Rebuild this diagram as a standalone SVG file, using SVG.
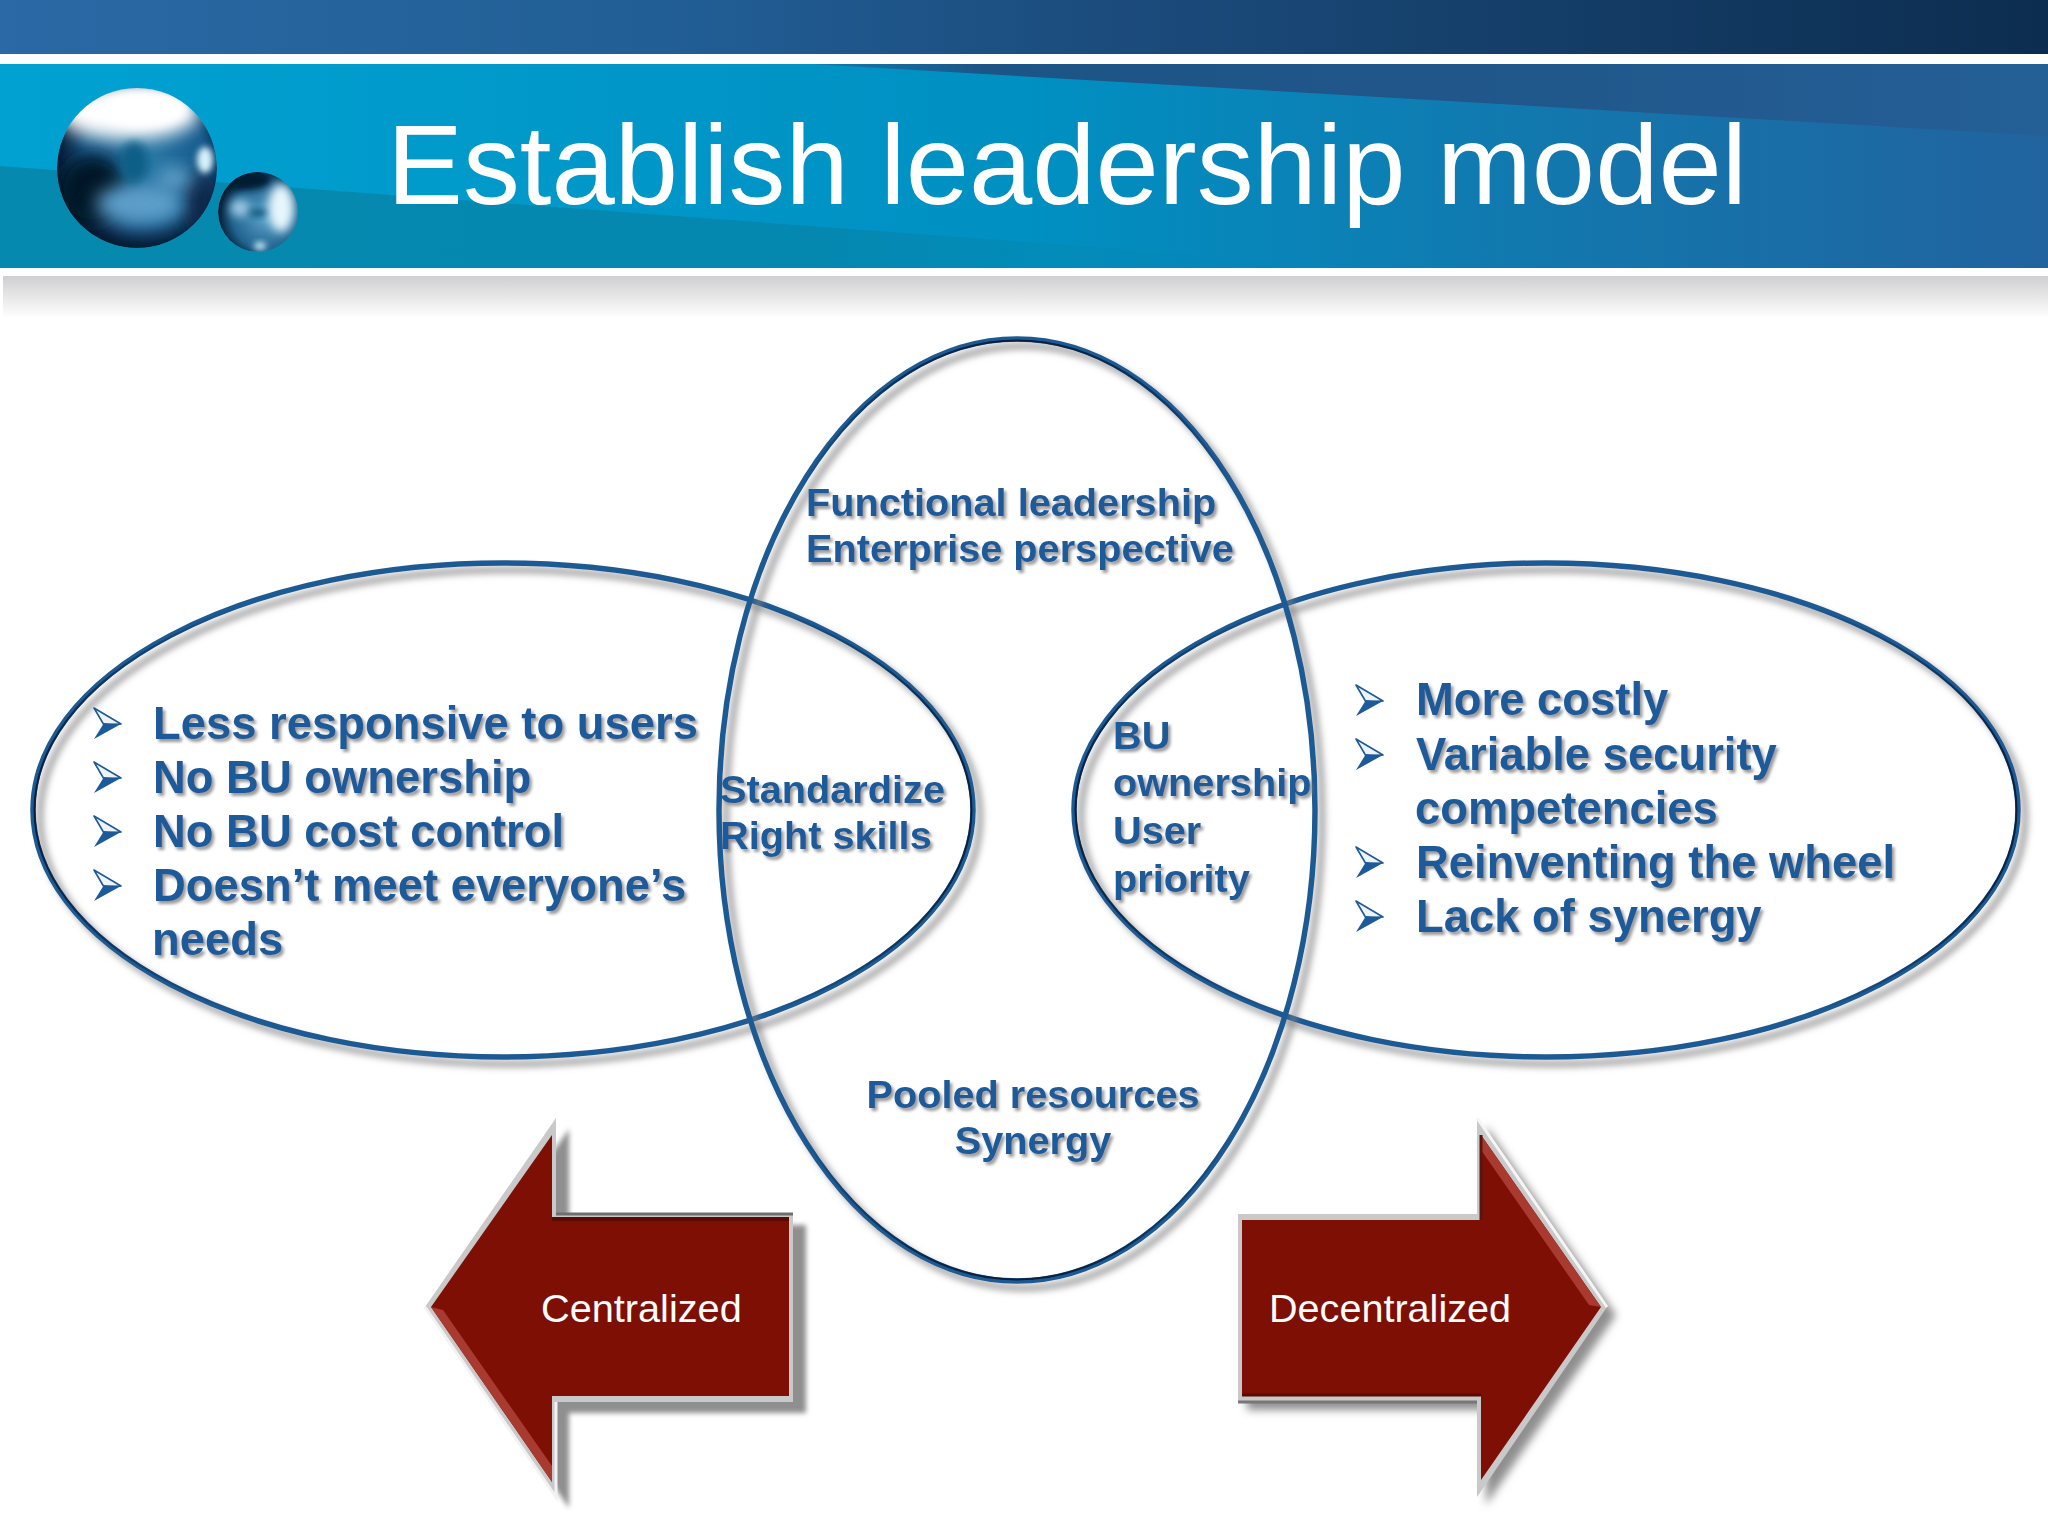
<svg xmlns="http://www.w3.org/2000/svg" width="2048" height="1536" viewBox="0 0 2048 1536">
<defs>
<linearGradient id="gTop" x1="0" x2="1" y1="0" y2="0"><stop offset="0" stop-color="#2a69a5"/><stop offset="0.33" stop-color="#215e95"/><stop offset="0.55" stop-color="#1b4b7c"/><stop offset="1" stop-color="#0c2d4f"/></linearGradient>
<linearGradient id="gBand" x1="0" x2="1" y1="0" y2="0"><stop offset="0" stop-color="#00a2d2"/><stop offset="0.5" stop-color="#0090c2"/><stop offset="0.75" stop-color="#1278ae"/><stop offset="1" stop-color="#21639f"/></linearGradient>
<linearGradient id="gTeal" x1="0" x2="1" y1="0" y2="0"><stop offset="0" stop-color="#0589ae"/><stop offset="0.6" stop-color="#0488b0"/><stop offset="1" stop-color="#0488b8" stop-opacity="0"/></linearGradient>
<linearGradient id="gWedge" x1="0" x2="1" y1="0" y2="0"><stop offset="0" stop-color="#0f7cb0"/><stop offset="0.14" stop-color="#1d5486"/><stop offset="0.5" stop-color="#205689"/><stop offset="1" stop-color="#245f96"/></linearGradient>
<linearGradient id="gFade" x1="0" x2="0" y1="0" y2="1"><stop offset="0" stop-color="#cfcfd1"/><stop offset="1" stop-color="#ffffff"/></linearGradient>
<linearGradient id="gRimH" x1="0" x2="1" y1="0" y2="0"><stop offset="0" stop-color="#08203c"/><stop offset="0.22" stop-color="#08203c" stop-opacity="0"/><stop offset="0.78" stop-color="#08203c" stop-opacity="0"/><stop offset="1" stop-color="#08203c"/></linearGradient>
<linearGradient id="gRimV" x1="0" x2="0" y1="0" y2="1"><stop offset="0" stop-color="#08203c"/><stop offset="0.16" stop-color="#08203c" stop-opacity="0"/><stop offset="0.84" stop-color="#08203c" stop-opacity="0"/><stop offset="1" stop-color="#08203c"/></linearGradient>
<radialGradient id="gBig" cx="0.55" cy="0.45" r="0.58"><stop offset="0" stop-color="#2a7aa8"/><stop offset="0.65" stop-color="#145a8c"/><stop offset="0.9" stop-color="#07233f"/><stop offset="1" stop-color="#04182c"/></radialGradient>
<radialGradient id="gSmall" cx="0.6" cy="0.55" r="0.6"><stop offset="0" stop-color="#5ea6cf"/><stop offset="0.7" stop-color="#20648f"/><stop offset="1" stop-color="#041a30"/></radialGradient>
<clipPath id="cBig"><circle cx="137" cy="168" r="80"/></clipPath>
<clipPath id="cSmall"><circle cx="258" cy="212" r="40"/></clipPath>
<filter id="b9" x="-60%" y="-60%" width="220%" height="220%"><feGaussianBlur stdDeviation="9"/></filter>
<filter id="b5" x="-50%" y="-50%" width="200%" height="200%"><feGaussianBlur stdDeviation="5"/></filter>
<filter id="b3" x="-50%" y="-50%" width="200%" height="200%"><feGaussianBlur stdDeviation="3"/></filter>
<filter id="shE" x="-5%" y="-5%" width="112%" height="112%"><feDropShadow dx="7" dy="7" stdDeviation="3.5" flood-color="#808080" flood-opacity="0.85"/></filter>
<filter id="shT" x="-5%" y="-10%" width="112%" height="125%"><feDropShadow dx="2.5" dy="3" stdDeviation="1.6" flood-color="#808080" flood-opacity="0.8"/></filter>
<filter id="shL" x="-10%" y="-10%" width="125%" height="125%"><feDropShadow dx="13" dy="11" stdDeviation="2.5" flood-color="#8f8f8f"/></filter>
<filter id="shR" x="-10%" y="-10%" width="125%" height="125%"><feDropShadow dx="9" dy="8" stdDeviation="4" flood-color="#8f8f8f"/></filter>
<g id="bullet">
<polygon points="0,0 27,16 10,17" fill="#eef3f8" stroke="#1d5a9a" stroke-width="1.6" stroke-linejoin="round"/>
<polygon points="27,16 0,31 10,15" fill="#1d5a9a"/>
</g>
</defs>
<style>
.loop{fill:none;stroke:#1e5a94;stroke-width:5.5;filter:url(#shE)}
.rimH{fill:none;stroke:url(#gRimH);stroke-width:2}
.rimV{fill:none;stroke:url(#gRimV);stroke-width:2}
.b{font-family:"Liberation Sans",Arial,sans-serif;font-weight:700;fill:#1d5a9a;filter:url(#shT)}
.big{font-size:45.4px}
.mid{font-size:39.7px}
.w{font-family:"Liberation Sans",Arial,sans-serif;fill:#fff}
</style>
<rect width="2048" height="1536" fill="#fff"/>
<g id="header">
<rect width="2048" height="54" fill="url(#gTop)"/>
<rect y="64" width="2048" height="204" fill="url(#gBand)"/>
<polygon points="0,166 1378,268 0,268" fill="url(#gTeal)"/>
<polygon points="811,64 2048,64 2048,136" fill="url(#gWedge)"/>
<rect x="3" y="276" width="2045" height="42" fill="url(#gFade)"/>
</g>
<g id="spheres">
<g clip-path="url(#cBig)">
<circle cx="137" cy="168" r="80" fill="url(#gBig)"/>
<ellipse cx="92" cy="190" rx="34" ry="36" fill="#031428" filter="url(#b9)"/>
<ellipse cx="200" cy="205" rx="18" ry="35" fill="#07274a" filter="url(#b9)"/>
<ellipse cx="128" cy="112" rx="72" ry="28" fill="#ffffff" filter="url(#b9)"/>
<ellipse cx="145" cy="108" rx="42" ry="18" fill="#ffffff" filter="url(#b5)"/>
<ellipse cx="140" cy="204" rx="44" ry="20" fill="#5d9fca" filter="url(#b9)"/>
<ellipse cx="175" cy="178" rx="18" ry="10" fill="#6aa7d0" filter="url(#b9)"/>
<ellipse cx="134" cy="162" rx="14" ry="20" fill="#0f5f86" filter="url(#b5)"/>
<ellipse cx="205" cy="160" rx="8" ry="13" fill="#d8f2fb" filter="url(#b3)"/>
<path d="M57 190a80 80 0 0 0 160 0v70H57z" fill="#041628" opacity=".35" filter="url(#b5)"/>
</g>
<g clip-path="url(#cSmall)">
<circle cx="258" cy="212" r="40" fill="url(#gSmall)"/>
<ellipse cx="245" cy="180" rx="26" ry="10" fill="#041a30" filter="url(#b3)"/>
<ellipse cx="281" cy="208" rx="13" ry="24" fill="#e6f6fc" filter="url(#b5)"/>
<ellipse cx="240" cy="208" rx="10" ry="9" fill="#9cc9e4" filter="url(#b5)"/>
<ellipse cx="258" cy="213" rx="9" ry="4" fill="#145c80" filter="url(#b3)"/>
<ellipse cx="260" cy="246" rx="6" ry="4" fill="#d0eefa" filter="url(#b3)"/>
</g>
</g>
<text id="title" class="w" x="387" y="204" font-size="113.8">Establish leadership model</text>
<g id="connectors">
<g id="loop-left"><ellipse class="loop" cx="503" cy="810" rx="470" ry="247"/><ellipse class="rimH" cx="503" cy="810" rx="468.5" ry="245.5"/></g>
<g id="loop-right"><ellipse class="loop" cx="1546" cy="810" rx="472" ry="247"/><ellipse class="rimH" cx="1546" cy="810" rx="470.5" ry="245.5"/></g>
<g id="loop-center"><ellipse class="loop" cx="1017" cy="810" rx="298" ry="471"/><ellipse class="rimV" cx="1017" cy="810" rx="296.5" ry="469.5"/></g>
</g>
<g id="node-left">
<use href="#bullet" x="94" y="708"/><use href="#bullet" x="94" y="762"/><use href="#bullet" x="94" y="816"/><use href="#bullet" x="94" y="870"/>
<text class="b big" x="153" y="739">Less responsive to users</text>
<text class="b big" x="153" y="793">No BU ownership</text>
<text class="b big" x="153" y="847">No BU cost control</text>
<text class="b big" x="153" y="901">Doesn’t meet everyone’s</text>
<text class="b big" x="152" y="955">needs</text>
</g>
<g id="node-right">
<use href="#bullet" x="1356" y="685"/><use href="#bullet" x="1356" y="739"/><use href="#bullet" x="1356" y="847"/><use href="#bullet" x="1356" y="901"/>
<text class="b big" x="1416" y="715">More costly</text>
<text class="b big" x="1416" y="770">Variable security</text>
<text class="b big" x="1415" y="824">competencies</text>
<text class="b big" x="1416" y="878">Reinventing the wheel</text>
<text class="b big" x="1416" y="932">Lack of synergy</text>
</g>
<g id="node-top">
<text class="b mid" x="806" y="516">Functional leadership</text>
<text class="b mid" x="806" y="562">Enterprise perspective</text>
</g>
<g id="node-overlap-left">
<text class="b mid" x="720" y="803">Standardize</text>
<text class="b mid" x="720" y="849">Right skills</text>
</g>
<g id="node-overlap-right">
<text class="b mid" x="1113" y="749">BU</text>
<text class="b mid" x="1113" y="796">ownership</text>
<text class="b mid" x="1113" y="844">User</text>
<text class="b mid" x="1113" y="892">priority</text>
</g>
<g id="node-bottom" text-anchor="middle">
<text class="b mid" x="1033" y="1108">Pooled resources</text>
<text class="b mid" x="1033" y="1154">Synergy</text>
</g>
<g id="node-centralized">
<polygon points="425,1307 556,1118 556,1214 793,1214 793,1402 556,1402 556,1497" fill="#c9c9c9" filter="url(#shL)"/>
<polyline points="425,1307 556,1497 556,1402" fill="none" stroke="#f2f2f2" stroke-width="3"/>
<polyline points="556,1214 793,1214" fill="none" stroke="#6e6e6e" stroke-width="3"/>
<polygon points="431,1307 552,1135 552,1219 789,1219 789,1396 552,1396 552,1482" fill="#7e0f05"/>
<polygon points="431,1307 552,1482 552,1466 443,1310" fill="#a83a30"/>
<polyline points="552,1219 789,1219" fill="none" stroke="#5c0903" stroke-width="4"/>
<text class="w" x="541" y="1322" font-size="39.7">Centralized</text>
</g>
<g id="node-decentralized">
<polygon points="1238,1214 1477,1214 1477,1118 1607,1307 1477,1497 1477,1402 1238,1402" fill="#c9c9c9" filter="url(#shR)"/>
<polyline points="1477,1118 1607,1307" fill="none" stroke="#f5f5f5" stroke-width="3"/>
<polyline points="1238,1402 1477,1402" fill="none" stroke="#777" stroke-width="3"/>
<polygon points="1242,1220 1481,1220 1481,1135 1601,1307 1481,1480 1481,1395 1242,1395" fill="#7e0f05"/>
<polygon points="1481,1135 1601,1307 1589,1305 1481,1150" fill="#a83a30"/>
<polyline points="1481,1135 1481,1220" fill="none" stroke="#5a1510" stroke-width="3"/>
<polyline points="1242,1395 1481,1395" fill="none" stroke="#5c0903" stroke-width="3"/>
<text class="w" x="1269" y="1322" font-size="39.6">Decentralized</text>
</g>
</svg>
